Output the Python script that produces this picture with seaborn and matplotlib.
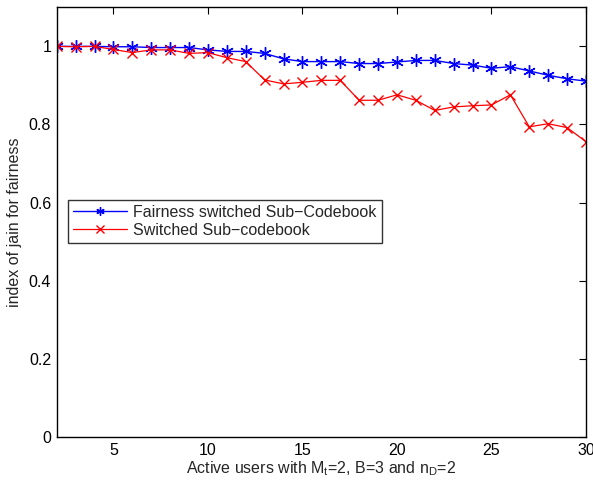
import numpy as np
import pandas as pd
import matplotlib
matplotlib.use("Agg")
import matplotlib.pyplot as plt
import seaborn as sns

users = list(range(2, 31))
fair_switched = [1.0, 1.0, 1.0, 0.999, 0.999, 0.997, 0.997, 0.997, 0.991, 0.987,
                 0.987, 0.982, 0.968, 0.961, 0.961, 0.961, 0.956, 0.956, 0.960, 0.964,
                 0.964, 0.956, 0.952, 0.944, 0.948, 0.937, 0.926, 0.917, 0.911]
switched = [1.0, 0.999, 1.0, 0.992, 0.984, 0.991, 0.991, 0.982, 0.984, 0.971,
            0.961, 0.914, 0.904, 0.908, 0.913, 0.913, 0.862, 0.862, 0.876, 0.862,
            0.836, 0.845, 0.848, 0.850, 0.876, 0.794, 0.802, 0.792, 0.756]
series_names = ["Fairness switched Sub\u2212Codebook", "Switched Sub\u2212codebook"]

sns.set_style("white")
plt.rcParams['font.family'] = ['Liberation Sans', 'DejaVu Sans']
plt.rcParams['mathtext.fontset'] = 'custom'
plt.rcParams['mathtext.rm'] = 'Liberation Sans'
plt.rcParams['mathtext.it'] = 'Liberation Sans'

FS = 11.5

fig = plt.figure(figsize=(5.93, 4.87), dpi=100)
ax = fig.add_axes([56.7 / 593, (487 - 437) / 487, 529.3 / 593, 429.7 / 487])

sns.lineplot(x=users, y=fair_switched, color="#0000ff", marker=(6, 2, 0),
             linewidth=1.0, markersize=9, markeredgewidth=1.0,
             markeredgecolor="#0000ff", markerfacecolor="#0000ff",
             label=series_names[0], ax=ax)
sns.lineplot(x=users, y=switched, color="#ff0000", marker="x",
             linewidth=0.9, markersize=7, markeredgewidth=1.0,
             markeredgecolor="#ff0000", markerfacecolor="#ff0000",
             label=series_names[1], ax=ax)

ax.set_xlim(2, 30)
ax.set_ylim(0, 1.1)
ax.set_xticks([5, 10, 15, 20, 25, 30])
ax.set_yticks([0, 0.2, 0.4, 0.6, 0.8, 1])
ax.set_yticklabels(["0", "0.2", "0.4", "0.6", "0.8", "1"])
ax.tick_params(direction="in", top=True, right=True, length=5, width=0.8,
               labelsize=FS, colors="black", pad=4)
for s in ax.spines.values():
    s.set_visible(True)
    s.set_color("black")
    s.set_linewidth(1.0)

ax.set_xlabel(r"Active users with M$_t$=2, B=3 and n$_D$=2", fontsize=FS, labelpad=1)
ax.set_ylabel("index of jain for fairness", fontsize=FS, labelpad=5)

leg = ax.legend(loc="upper left", bbox_to_anchor=((68 - 56.7) / 529.3, (437 - 200) / 429.7),
                borderaxespad=0, frameon=True, fancybox=False, fontsize=FS,
                handlelength=3.4, handletextpad=0.4, borderpad=0.3, labelspacing=0.2)
leg.get_frame().set_edgecolor("black")
leg.get_frame().set_linewidth(1.0)
for h in leg.legend_handles:
    h.set_markersize(6)

fig.savefig("out.png", dpi=100)
